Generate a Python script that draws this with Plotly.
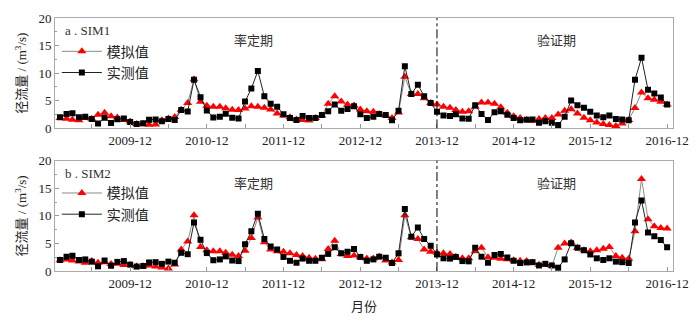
import pandas as pd
import plotly.graph_objects as go
from plotly.subplots import make_subplots

months = pd.date_range("2009-01-01", periods=96, freq="MS")

observed = [2.0, 2.6, 2.75, 2.0, 2.1, 1.7, 0.85, 1.9, 0.95, 1.65, 1.8, 1.15,
            0.8, 0.9, 1.55, 1.6, 1.3, 1.7, 1.5, 3.3, 3.05, 8.8, 5.65, 3.25,
            1.95, 2.1, 2.65, 1.9, 1.8, 4.85, 7.2, 10.4, 5.8, 4.45, 3.9, 2.55,
            1.85, 1.5, 2.25, 1.85, 1.85, 2.4, 3.1, 4.3, 3.2, 3.5, 4.0, 2.55,
            1.85, 2.1, 2.6, 2.4, 1.45, 3.2, 11.25, 6.2, 7.9, 5.8, 4.6, 3.0,
            2.3, 2.25, 2.55, 1.8, 1.75, 4.2, 2.6, 1.5, 2.9, 3.1, 2.45, 1.85,
            1.45, 1.55, 1.6, 1.0, 1.3, 1.0, 0.6, 2.1, 5.05, 4.2, 3.75, 3.0,
            2.3, 2.0, 2.3, 1.7, 1.6, 1.45, 8.8, 12.8, 7.0, 6.3, 5.6, 4.3]

sim1 = [1.85, 1.75, 1.55, 1.45, 1.85, 1.75, 2.45, 2.8, 2.2, 1.95, 1.5, 1.25,
        0.8, 0.75, 0.65, 0.7, 1.45, 1.8, 2.05, 3.35, 4.6, 8.9, 4.8, 4.1,
        3.9, 3.9, 3.65, 3.35, 3.3, 3.6, 4.0, 3.9, 3.75, 3.4, 2.7, 2.3,
        2.0, 1.6, 1.5, 1.4, 1.85, 2.3, 4.45, 5.8, 4.85, 4.3, 4.15, 3.4,
        3.1, 3.0, 2.6, 2.3, 1.85, 2.85, 9.35, 6.2, 6.2, 5.45, 4.6, 4.3,
        3.9, 3.75, 3.3, 3.0, 3.1, 3.9, 4.7, 4.7, 4.45, 3.8, 2.8, 2.2,
        1.85, 1.55, 1.35, 1.7, 1.85, 1.85, 2.5, 3.2, 3.45, 2.7, 1.9, 1.45,
        1.05, 0.8, 0.6, 0.4, 0.85, 1.5, 3.7, 6.5, 5.45, 5.2, 4.8, 4.3]

sim2 = [1.95, 2.1, 1.9, 1.7, 1.5, 1.8, 1.5, 1.6, 1.25, 1.3, 1.1, 1.1,
        0.85, 0.85, 1.0, 0.8, 0.65, 0.45, 1.2, 3.9, 5.35, 10.1, 4.35, 3.75,
        3.6, 3.6, 3.3, 2.95, 2.7, 3.65, 6.0, 9.7, 5.2, 3.9, 3.6, 3.5,
        3.2, 2.9, 2.7, 2.4, 2.2, 2.15, 4.0, 5.5, 3.1, 2.7, 2.8, 2.5,
        2.25, 2.25, 2.6, 1.9, 1.55, 2.0, 10.1, 6.1, 5.8, 3.9, 3.5, 3.3,
        3.2, 3.1, 2.6, 2.3, 2.3, 3.6, 4.2, 2.5, 2.4, 2.2, 2.15, 1.95,
        1.85, 1.8, 1.5, 1.15, 1.15, 0.9, 4.2, 5.0, 5.15, 4.2, 3.75, 3.6,
        3.75, 4.05, 4.35, 2.7, 2.4, 2.2, 7.2, 16.7, 9.4, 8.1, 7.8, 7.7]

tick_dates = ["2009-12-01", "2010-12-01", "2011-12-01", "2012-12-01",
              "2013-12-01", "2014-12-01", "2015-12-01", "2016-12-01"]
tick_labels = ["2009-12", "2010-12", "2011-12", "2012-12",
               "2013-12", "2014-12", "2015-12", "2016-12"]
minor_dates = ["2009-06-01", "2010-06-01", "2011-06-01", "2012-06-01",
               "2013-06-01", "2014-06-01", "2015-06-01", "2016-06-01"]
split_date = "2013-12-01"

FONT = "Times New Roman, Liberation Serif, Noto Sans CJK SC, serif"

fig = make_subplots(rows=2, cols=1, vertical_spacing=0.128)

for row, sim, leg in [(1, sim1, "legend"), (2, sim2, "legend2")]:
    fig.add_trace(go.Scatter(
        x=months, y=sim, name="模拟值", mode="lines+markers",
        line=dict(color="#8a8a8a", width=1),
        marker=dict(symbol="triangle-up", color="#ff0000", size=8),
        legend=leg), row=row, col=1)
    fig.add_trace(go.Scatter(
        x=months, y=observed, name="实测值", mode="lines+markers",
        line=dict(color="#222222", width=1),
        marker=dict(symbol="square", color="#000000", size=6),
        legend=leg), row=row, col=1)

xaxis_style = dict(
    range=["2008-12-08", "2016-12-29"],
    tickvals=tick_dates, ticktext=tick_labels,
    ticks="inside", ticklen=4, tickcolor="#999999",
    minor=dict(tickvals=minor_dates, ticks="inside", ticklen=4, tickcolor="#999999"),
    showline=True, linecolor="#aaaaaa", linewidth=1, mirror=True,
    showgrid=False, zeroline=False,
    tickfont=dict(family=FONT, size=13, color="#222"),
)
yaxis_style = dict(
    range=[0, 20], tickvals=[0, 5, 10, 15, 20],
    ticks="inside", ticklen=4, tickcolor="#999999",
    minor=dict(tickvals=[2.5, 7.5, 12.5, 17.5], ticks="inside", ticklen=2, tickcolor="#999999"),
    showline=True, linecolor="#aaaaaa", linewidth=1, mirror=True,
    showgrid=False, zeroline=False,
    tickfont=dict(family=FONT, size=13, color="#222"),
    title=dict(text="径流量 / (m<sup>3</sup>/s)", font=dict(family=FONT, size=13, color="#222"), standoff=8),
)
fig.update_xaxes(**xaxis_style)
fig.update_yaxes(**yaxis_style)
fig.update_xaxes(title=dict(text="月份", font=dict(family=FONT, size=13, color="#222"), standoff=12), row=2, col=1)

for xr, yref in [("x", "y domain"), ("x2", "y2 domain")]:
    fig.add_shape(type="line", x0=split_date, x1=split_date, y0=0, y1=1,
                  xref=xr, yref=yref,
                  line=dict(color="black", width=1, dash="dashdot"))

ann_font = dict(family=FONT, size=13, color="#333")
annots = [
    (0.0129, 0.95, "a . SIM1", "left"),
    (0.0129, 0.385, "b . SIM2", "left"),
    (0.3215, 0.91, "率定期", "center"),
    (0.812, 0.91, "验证期", "center"),
    (0.3215, 0.346, "率定期", "center"),
    (0.812, 0.346, "验证期", "center"),
]
for x, y, t, anc in annots:
    fig.add_annotation(x=x, y=y, xref="paper", yref="paper", text=t, showarrow=False,
                       xanchor=anc, yanchor="middle", font=ann_font)

legend_style = dict(x=0.003, xanchor="left", yanchor="top", bgcolor="rgba(0,0,0,0)",
                    font=dict(family=FONT, size=14, color="#222"), tracegroupgap=0,
                    itemwidth=40)
fig.update_layout(
    width=700, height=323,
    margin=dict(l=55, r=23, t=11, b=46),
    paper_bgcolor="white", plot_bgcolor="white",
    font=dict(family=FONT),
    legend=dict(y=0.93, **legend_style),
    legend2=dict(y=0.37, **legend_style),
)

fig.write_html("out.html", config={"displayModeBar": False},
               post_script="document.body.style.margin='0';")
